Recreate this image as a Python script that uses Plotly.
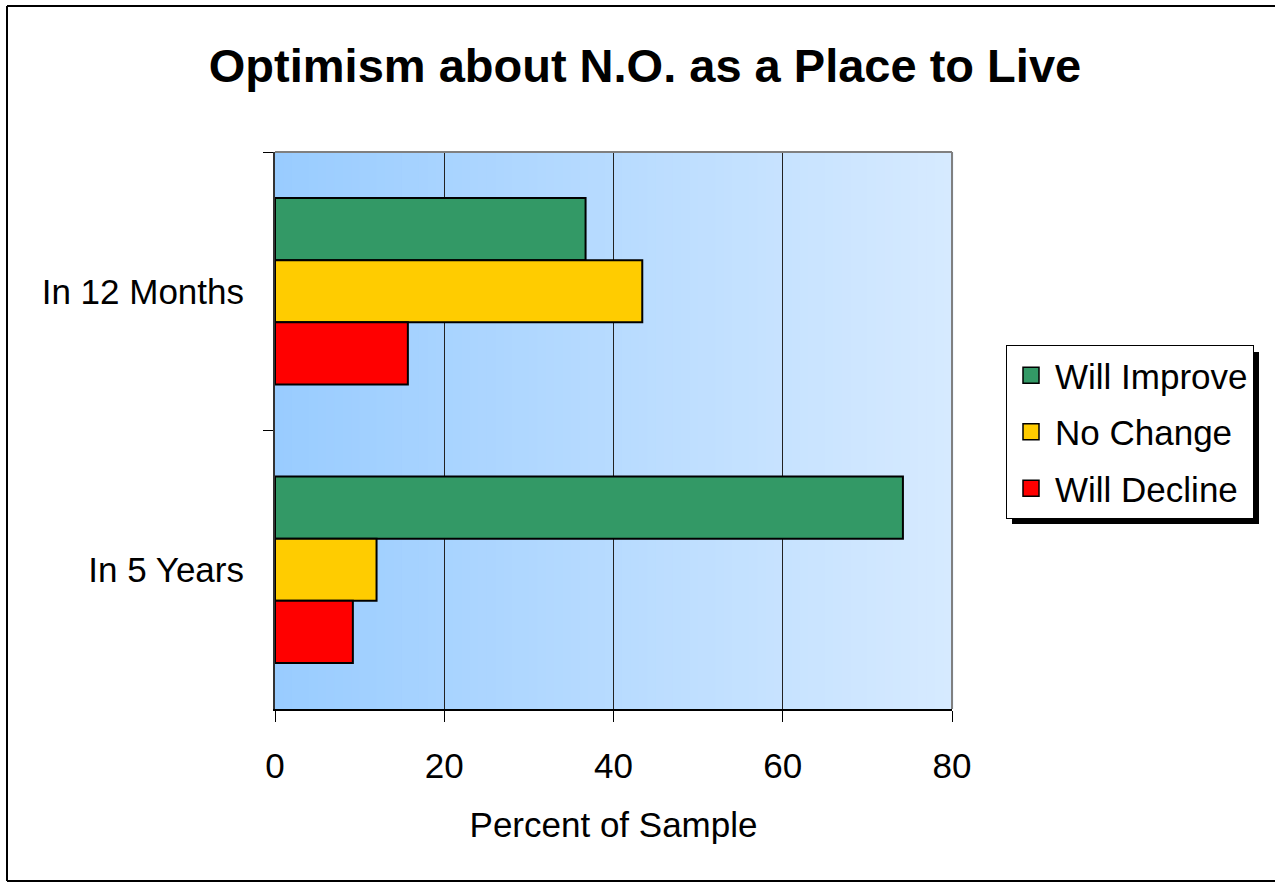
import plotly.graph_objects as go

categories = ["In 12 Months", "In 5 Years"]
series_names = ["Will Improve", "No Change", "Will Decline"]
will_improve = [36.7, 74.2]
no_change = [43.4, 12.0]
will_decline = [15.7, 9.2]
x_ticks = [0, 20, 40, 60, 80]

colors = ["#339966", "#FFCC00", "#FF0000"]
values = [will_improve, no_change, will_decline]

W, H = 1275, 884
L, R, T, B = 275, 952, 152, 709
pw, ph = R - L, B - T

def px(xp):
    return (xp - L) / pw

def py(yp):
    return (B - yp) / ph

FONT = "Liberation Sans, Arial, sans-serif"

fig = go.Figure()
for name, vals, col in zip(series_names, values, colors):
    fig.add_trace(go.Bar(
        y=categories, x=vals, name=name, orientation="h",
        marker=dict(color=col, line=dict(color="#000000", width=2)),
        showlegend=False,
    ))
# legend entries with larger square swatches
for name, col in zip(series_names, colors):
    fig.add_trace(go.Scatter(
        x=[None], y=[None], mode="markers", name=name, legendgroup=name,
        marker=dict(symbol="square", size=16, color=col, line=dict(color="#000000", width=1.5)),
        hoverinfo="skip",
    ))

shapes = []
# gradient background
n = 80
c0 = (153, 204, 255)
c1 = (214, 234, 255)
for i in range(n):
    t = i / (n - 1)
    c = tuple(round(c0[k] + (c1[k] - c0[k]) * t) for k in range(3))
    shapes.append(dict(type="rect", xref="x domain", yref="y domain",
                       x0=i / n, x1=(i + 1) / n + 0.002, y0=0, y1=1,
                       fillcolor="rgb(%d,%d,%d)" % c, line=dict(width=0), layer="below"))
# gray top/right border of plot area
shapes.append(dict(type="line", xref="x domain", yref="y domain", x0=0, x1=1, y0=1, y1=1,
                   line=dict(color="#808080", width=2)))
shapes.append(dict(type="line", xref="x domain", yref="y domain", x0=1, x1=1, y0=0, y1=1,
                   line=dict(color="#808080", width=2)))
# legend shadow
shapes.append(dict(type="rect", xref="paper", yref="paper",
                   x0=px(1012), x1=px(1259), y0=py(524), y1=py(352),
                   fillcolor="#000000", line=dict(width=0), layer="above"))
# outer border (left, top, bottom)
bx0, bx1, by0, by1 = px(7), px(1280), py(881), py(6)
for (a, b, c, d) in [(bx0, by0, bx0, by1), (bx0, by1, bx1, by1), (bx0, by0, bx1, by0)]:
    shapes.append(dict(type="line", xref="paper", yref="paper", x0=a, y0=b, x1=c, y1=d,
                       line=dict(color="#000000", width=2), layer="above"))

fig.update_layout(
    width=W, height=H,
    margin=dict(l=L, r=W - R, t=T, b=H - B),
    paper_bgcolor="white", plot_bgcolor="rgba(0,0,0,0)",
    font=dict(family=FONT, color="black", size=35),
    barmode="group", bargap=0.33, bargroupgap=0,
    title=dict(text="<b>Optimism about N.O. as a Place to Live</b>",
               font=dict(size=47, family=FONT, color="black"),
               x=px(645), xanchor="center", xref="paper",
               y=1 - 66 / H, yanchor="middle"),
    xaxis=dict(range=[0, 80], tickvals=x_ticks, ticks="outside", ticklen=11,
               tickcolor="black", showline=True, linecolor="black", linewidth=2,
               showgrid=True, gridcolor="#222222", gridwidth=1, zeroline=False,
               tickfont=dict(size=35), ticklabelstandoff=14,
               title=dict(text="Percent of Sample", font=dict(size=35), standoff=28)),
    yaxis=dict(categoryorder="array", categoryarray=categories, autorange="reversed",
               ticks="outside", ticklen=10, tickcolor="black", tickson="boundaries",
               showline=True, linecolor="#333333", linewidth=2, showgrid=False,
               tickfont=dict(size=35), ticklabelstandoff=22),
    legend=dict(x=px(1006), xanchor="left", y=py(345), yanchor="top",
                bgcolor="white", bordercolor="black", borderwidth=1,
                font=dict(size=35), traceorder="grouped", tracegroupgap=8,
                itemwidth=38),
    shapes=shapes,
    showlegend=True,
)

fig.write_html("out.html", config={"displayModeBar": False},
               post_script="document.body.style.margin='0';")
